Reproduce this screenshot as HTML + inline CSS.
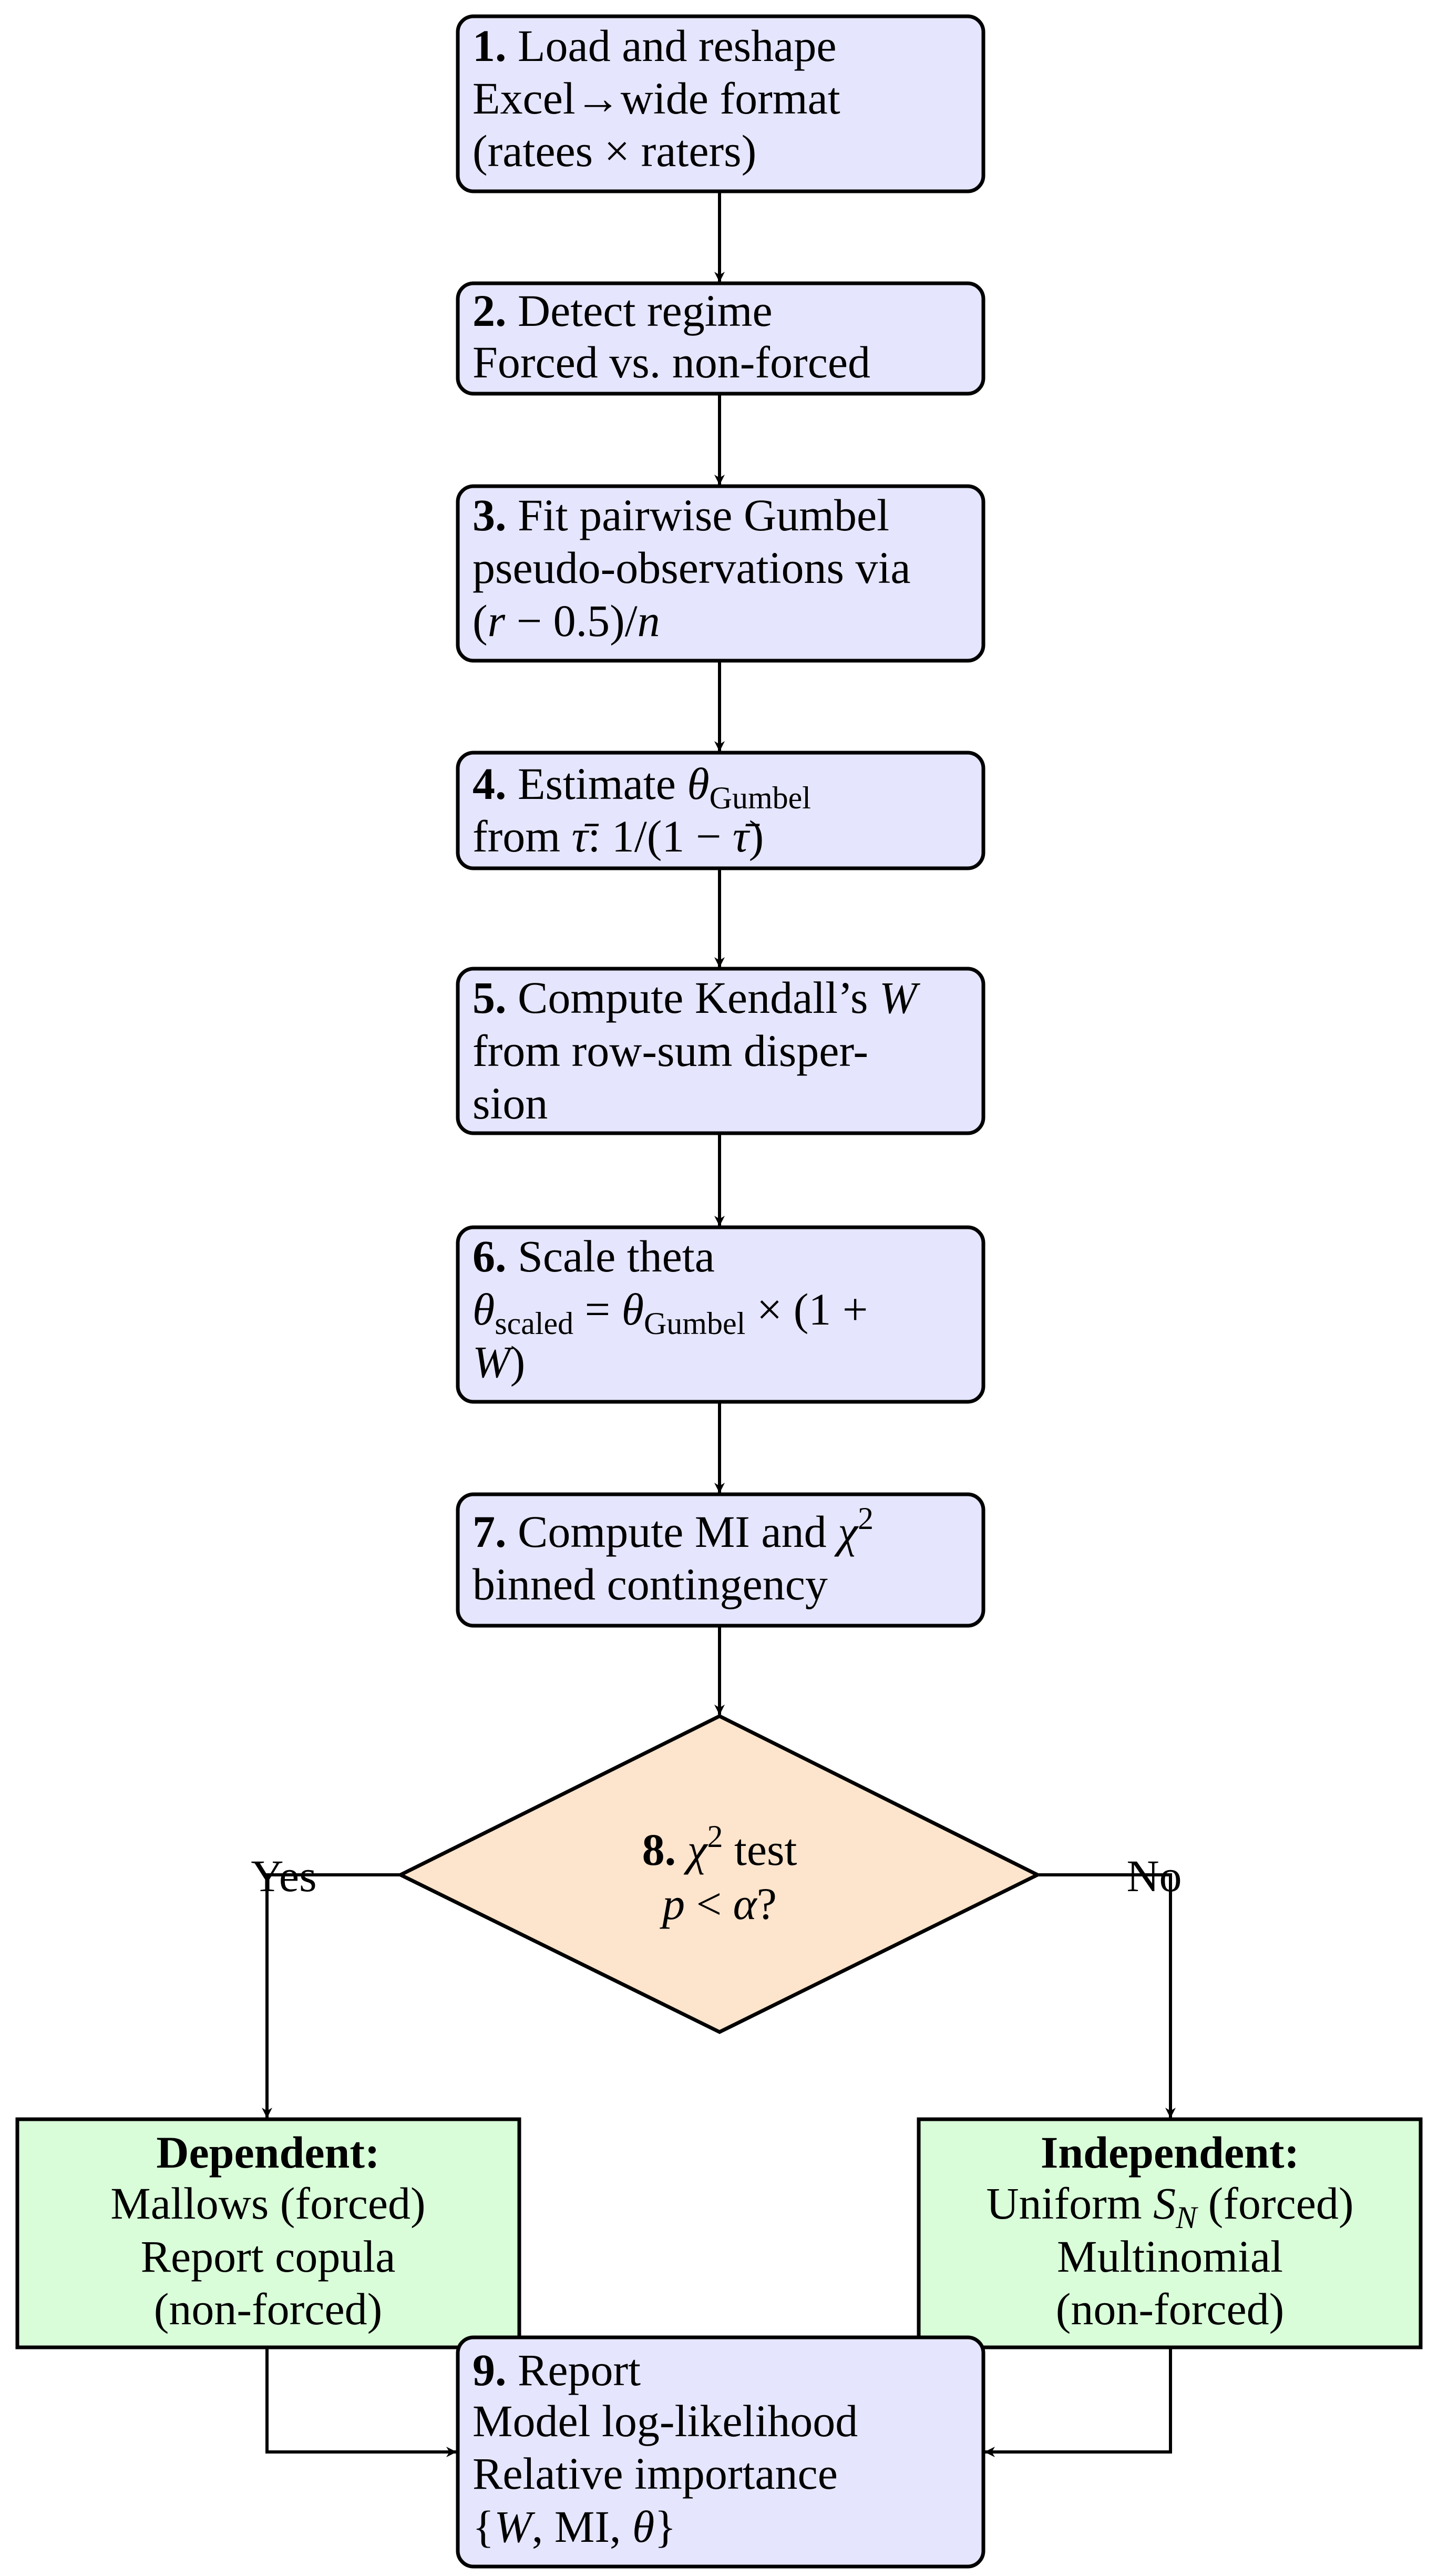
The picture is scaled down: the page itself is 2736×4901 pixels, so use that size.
<!DOCTYPE html>
<html><head><meta charset="utf-8"><style>
html,body{margin:0;padding:0;background:#fff}
svg{display:block}
text{font-family:"Liberation Serif",serif;font-size:86px;fill:#000}
.b{font-weight:bold}
.i{font-style:italic}
.s{font-size:60px}
</style></head><body>
<svg width="2736" height="4901" viewBox="0 0 2736 4901" xmlns="http://www.w3.org/2000/svg">
<defs>
<marker id="a" viewBox="0 0 20 20" refX="19" refY="10" markerWidth="20" markerHeight="20" markerUnits="userSpaceOnUse" orient="auto">
<path d="M0,0 L20,10 L0,20 L6,10 Z" fill="#000"/>
</marker>
</defs>
<g stroke="#000" stroke-width="6" fill="none">
<line x1="1369" y1="364" x2="1369" y2="536" marker-end="url(#a)"/>
<line x1="1369" y1="749" x2="1369" y2="922" marker-end="url(#a)"/>
<line x1="1369" y1="1257" x2="1369" y2="1429" marker-end="url(#a)"/>
<line x1="1369" y1="1652" x2="1369" y2="1840" marker-end="url(#a)"/>
<line x1="1369" y1="2156" x2="1369" y2="2332" marker-end="url(#a)"/>
<line x1="1369" y1="2667" x2="1369" y2="2840" marker-end="url(#a)"/>
<line x1="1369" y1="3093" x2="1369" y2="3262" marker-end="url(#a)"/>
<polyline points="762,3567 508,3567 508,4029" marker-end="url(#a)"/>
<polyline points="1976,3567 2227,3567 2227,4029" marker-end="url(#a)"/>
<polyline points="508,4465 508,4665 868,4665" marker-end="url(#a)"/>
<polyline points="2227,4465 2227,4665 1874,4665" marker-end="url(#a)"/>
</g>
<g stroke="#000" stroke-width="7">
<rect x="871" y="31" width="1000" height="333" rx="30" fill="#e5e5fd"/>
<rect x="871" y="539" width="1000" height="210" rx="30" fill="#e5e5fd"/>
<rect x="871" y="925" width="1000" height="332" rx="30" fill="#e5e5fd"/>
<rect x="871" y="1432" width="1000" height="220" rx="30" fill="#e5e5fd"/>
<rect x="871" y="1843" width="1000" height="313" rx="30" fill="#e5e5fd"/>
<rect x="871" y="2335" width="1000" height="332" rx="30" fill="#e5e5fd"/>
<rect x="871" y="2843" width="1000" height="250" rx="30" fill="#e5e5fd"/>
<polygon points="1369,3265 1974,3567 1369,3866 762,3567" fill="#fde4cc"/>
<rect x="33" y="4032" width="955" height="434" fill="#d9fdd9"/>
<rect x="1748" y="4032" width="955" height="434" fill="#d9fdd9"/>
<rect x="871" y="4447" width="1000" height="436" rx="30" fill="#e5e5fd"/>
</g>
<text x="899" y="116"><tspan class="b">1.</tspan> Load and reshape</text>
<text x="899" y="216">Excel→wide format</text>
<text x="899" y="316">(ratees × raters)</text>
<text x="899" y="620"><tspan class="b">2.</tspan> Detect regime</text>
<text x="899" y="718">Forced vs. non-forced</text>
<text x="899" y="1009"><tspan class="b">3.</tspan> Fit pairwise Gumbel</text>
<text x="899" y="1109">pseudo-observations via</text>
<text x="899" y="1210">(<tspan class="i">r</tspan> − 0.5)/<tspan class="i">n</tspan></text>
<text x="899" y="1520"><tspan class="b">4.</tspan> Estimate <tspan class="i">θ</tspan><tspan class="s" dy="18">Gumbel</tspan></text>
<text x="899" y="1620">from <tspan class="i">τ̄</tspan>: 1/(1 − <tspan class="i">τ̄</tspan>)</text>
<text x="899" y="1927"><tspan class="b">5.</tspan> Compute Kendall’s <tspan class="i">W</tspan></text>
<text x="899" y="2028">from row-sum disper-</text>
<text x="899" y="2128">sion</text>
<text x="899" y="2419"><tspan class="b">6.</tspan> Scale theta</text>
<text x="899" y="2520"><tspan class="i">θ</tspan><tspan class="s" dy="18">scaled</tspan><tspan dy="-18"> = </tspan><tspan class="i">θ</tspan><tspan class="s" dy="18">Gumbel</tspan><tspan dy="-18"> × (1 +</tspan></text>
<text x="899" y="2620"><tspan class="i">W</tspan>)</text>
<text x="899" y="2943"><tspan class="b">7.</tspan> Compute MI and <tspan class="i">χ</tspan><tspan class="s" dy="-34">2</tspan></text>
<text x="899" y="3043">binned contingency</text>
<text x="1369" y="3548" text-anchor="middle"><tspan class="b">8.</tspan> <tspan class="i">χ</tspan><tspan class="s" dy="-34">2</tspan><tspan dy="34"> test</tspan></text>
<text x="1369" y="3651" text-anchor="middle"><tspan class="i">p</tspan>  &lt;  <tspan class="i">α</tspan>?</text>
<text x="540" y="3598" text-anchor="middle">Yes</text>
<text x="2196" y="3598" text-anchor="middle">No</text>
<text x="510" y="4124" text-anchor="middle" class="b">Dependent:</text>
<text x="510" y="4221" text-anchor="middle">Mallows (forced)</text>
<text x="510" y="4322" text-anchor="middle">Report copula</text>
<text x="510" y="4422" text-anchor="middle">(non-forced)</text>
<text x="2226" y="4124" text-anchor="middle" class="b">Independent:</text>
<text x="2226" y="4221" text-anchor="middle">Uniform <tspan class="i">S</tspan><tspan class="s i" dy="18">N</tspan><tspan dy="-18"> (forced)</tspan></text>
<text x="2226" y="4322" text-anchor="middle">Multinomial</text>
<text x="2226" y="4422" text-anchor="middle">(non-forced)</text>
<text x="899" y="4538"><tspan class="b">9.</tspan> Report</text>
<text x="899" y="4635">Model log-likelihood</text>
<text x="899" y="4735">Relative importance</text>
<text x="899" y="4836">{<tspan class="i">W</tspan>, MI, <tspan class="i">θ</tspan>}</text>
</svg>
</body></html>
